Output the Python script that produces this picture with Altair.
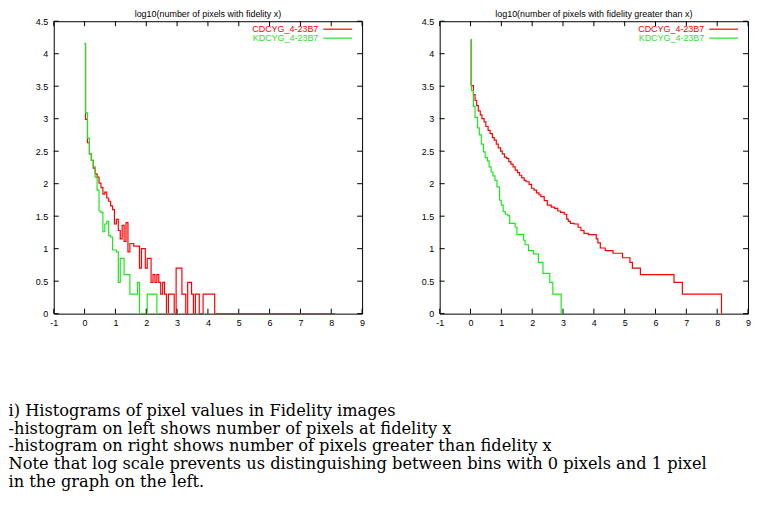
import altair as alt
import pandas as pd

# ---------------- data ----------------
series_names = ["CDCYG_4-23B7", "KDCYG_4-23B7"]
series_colors = ["#ff0000", "#1ee61e"]

bin_width = 0.0625  # histogram bin width (1/16)

# left panel: log10(number of pixels with fidelity x), one value per bin (bin centres k*bin_width)
left_red = [4.15, 2.99, 2.63, 2.46, 2.36, 2.24, 2.15, 2.10, 2.01, 1.94,
            1.84, 1.87, 1.78, 1.73, 1.66, 1.60, 1.38, 1.45, 1.28, 1.15,
            1.36, 1.11, 1.40, 0.95, 1.08, 1.08, 1.04, 1.04, 1.04, 0.70,
            1.00, 1.00, 0.70, 0.85, 0.85, 0.48, 0.60, 0.48, 0.60, 0.48,
            0.30, 0.48, 0.30, 0.00, 0.30, 0.30, 0.30, 0.00, 0.70, 0.70,
            0.70, 0.30, 0.30, 0.00, 0.48, 0.48, 0.30, 0.00, 0.30, 0.30,
            0.00, 0.00, 0.30, 0.30, 0.30, 0.30, 0.30, 0.30, 0.00, 0.00,
            0.00, 0.00, 0.00, 0.00, 0.00, 0.00, 0.00, 0.00, 0.00, 0.00,
            0.00, 0.00, 0.00, 0.00, 0.00, 0.00, 0.00, 0.00, 0.00, 0.00,
            0.00, 0.00, 0.00, 0.00, 0.00, 0.00, 0.00, 0.00, 0.00, 0.00,
            0.00, 0.00, 0.00, 0.00, 0.00, 0.00, 0.00, 0.00, 0.00, 0.00,
            0.00, 0.00, 0.00, 0.00, 0.00, 0.00, 0.00, 0.00, 0.00, 0.00,
            0.00, 0.00, 0.00, 0.00, 0.00, 0.00, 0.00, 0.00, 0.00, 0.00,
            0.00]
left_green = [4.16, 3.09, 2.70, 2.46, 2.36, 2.26, 2.10, 1.90, 1.58, 1.56,
              1.26, 1.38, 1.42, 1.20, 1.18, 0.98, 0.98, 0.95, 0.48, 0.85,
              0.85, 0.60, 0.60, 0.60, 0.30, 0.30, 0.30, 0.30, 0.48, 0.00,
              0.00, 0.00, 0.00, 0.30, 0.30, 0.30, 0.30, 0.30, 0.00, 0.00,
              0.00, 0.00, 0.00, 0.00, 0.00, 0.00, 0.00, 0.00]

# right panel: log10(number of pixels with fidelity greater than x), step points
right_red_x = [0, 0.02, 0.094, 0.147, 0.20, 0.253, 0.317, 0.37, 0.44, 0.497,
               0.57, 0.635, 0.71, 0.77, 0.836, 0.90, 0.975, 1.03, 1.10, 1.166,
               1.24, 1.31, 1.38, 1.45, 1.527, 1.59, 1.66, 1.74, 1.80, 1.90,
               1.98, 2.06, 2.14, 2.22, 2.28, 2.39, 2.49, 2.62, 2.73, 2.83,
               2.92, 3.04, 3.12, 3.17, 3.24, 3.36, 3.49, 3.58, 3.68, 3.82,
               4.08, 4.13, 4.21, 4.37, 4.62, 4.93, 5.17, 5.25, 5.51, 6.60,
               6.87, 8.14]
right_red_y = [4.20, 3.51, 3.37, 3.28, 3.20, 3.12, 3.06, 3.00, 2.95, 2.88,
               2.82, 2.77, 2.71, 2.67, 2.61, 2.55, 2.50, 2.46, 2.41, 2.39,
               2.34, 2.30, 2.26, 2.21, 2.17, 2.13, 2.09, 2.05, 2.03, 1.99,
               1.93, 1.90, 1.86, 1.83, 1.80, 1.74, 1.67, 1.64, 1.62, 1.58,
               1.56, 1.53, 1.455, 1.42, 1.39, 1.38, 1.33, 1.28, 1.235, 1.215,
               1.15, 1.09, 1.01, 0.97, 0.93, 0.86, 0.79, 0.70, 0.60, 0.48,
               0.30, 0.00]
right_green_x = [0, 0.03, 0.094, 0.147, 0.23, 0.285, 0.35, 0.42, 0.476, 0.55,
                 0.603, 0.667, 0.73, 0.794, 0.858, 0.943, 0.996, 1.06, 1.13, 1.21,
                 1.27, 1.45, 1.505, 1.72, 1.77, 1.88, 2.04, 2.20, 2.35, 2.57,
                 2.67, 2.94]
right_green_y = [4.22, 3.43, 3.19, 3.02, 2.86, 2.75, 2.61, 2.49, 2.40, 2.35,
                 2.26, 2.18, 2.12, 2.05, 1.95, 1.745, 1.67, 1.57, 1.53, 1.51,
                 1.39, 1.33, 1.22, 1.13, 1.06, 0.97, 0.92, 0.79, 0.62, 0.48,
                 0.30, 0.00]

x_ticks = [-1, 0, 1, 2, 3, 4, 5, 6, 7, 8, 9]
y_ticks = [0, 0.5, 1, 1.5, 2, 2.5, 3, 3.5, 4, 4.5]

titles = ["log10(number of pixels with fidelity x)",
          "log10(number of pixels with fidelity greater than x)"]

caption = ["i) Histograms of pixel values in Fidelity images",
           "-histogram on left shows number of pixels at fidelity x",
           "-histogram on right shows number of pixels greater than fidelity x",
           "Note that log scale prevents us distinguishing between bins with 0 pixels and 1 pixel",
           "in the graph on the left."]

# ---------------- chart ----------------
W, H = 310, 294
TICK = 5
FONT = "Liberation Sans"

xscale = alt.Scale(domain=[-1, 9], nice=False, zero=False)
yscale = alt.Scale(domain=[0, 4.5], nice=False, zero=False)
xaxis = alt.Axis(values=x_ticks, labelExpr="datum.value + ''", labelPadding=5,
                 labelOverlap=False, labelBound=False, labelFlush=False)
yaxis = alt.Axis(values=y_ticks, labelExpr="datum.value + ''", labelPadding=6,
                 minExtent=45, maxExtent=45, labelOverlap=False, labelBound=False,
                 labelFlush=False)


def xenc(field):
    return alt.X(field, type="quantitative", scale=xscale, title=None, axis=xaxis)


def yenc(field):
    return alt.Y(field, type="quantitative", scale=yscale, title=None, axis=yaxis)


def line_layer(xs, ys, color, interp):
    df = pd.DataFrame({"x": xs, "y": ys})
    return alt.Chart(df).mark_line(interpolate=interp, color=color,
                                   strokeWidth=1.2, clip=True).encode(x=xenc("x"), y=yenc("y"))


def tick_layers():
    ydf = pd.DataFrame({"t": y_ticks})
    xdf = pd.DataFrame({"t": x_ticks})
    return [
        alt.Chart(ydf).mark_rule(color="black").encode(y=yenc("t"), x=alt.value(0), x2=alt.value(TICK)),
        alt.Chart(ydf).mark_rule(color="black").encode(y=yenc("t"), x=alt.value(W - TICK), x2=alt.value(W)),
        alt.Chart(xdf).mark_rule(color="black").encode(x=xenc("t"), y=alt.value(H), y2=alt.value(H - TICK)),
        alt.Chart(xdf).mark_rule(color="black").encode(x=xenc("t"), y=alt.value(0), y2=alt.value(TICK)),
    ]


def legend_layers():
    out = []
    for i, (name, col) in enumerate(zip(series_names, series_colors)):
        ldf = pd.DataFrame({"label": [name]})
        yy = 8 + 9 * i
        out.append(alt.Chart(ldf).mark_text(align="right", baseline="middle", font=FONT,
                                            fontSize=9, color=col)
                   .encode(text="label:N", x=alt.value(W - 44), y=alt.value(yy)))
        out.append(alt.Chart(ldf).mark_rule(color=col, strokeWidth=1.2)
                   .encode(x=alt.value(W - 39), x2=alt.value(W - 10), y=alt.value(yy)))
    return out


def panel(title, red_xy, green_xy, interp):
    layers = [line_layer(red_xy[0], red_xy[1], series_colors[0], interp),
              line_layer(green_xy[0], green_xy[1], series_colors[1], interp)]
    layers += tick_layers() + legend_layers()
    return alt.layer(*layers).properties(
        width=W, height=H,
        title=alt.TitleParams(title, font=FONT, fontSize=9, fontWeight="normal",
                              offset=-2, anchor="middle", frame="group", color="black"))


left_x_red = [k * bin_width for k in range(len(left_red))]
left_x_green = [k * bin_width for k in range(len(left_green))]

left = panel(titles[0], (left_x_red, left_red), (left_x_green, left_green), "step")
right = panel(titles[1], (right_red_x, right_red_y), (right_green_x, right_green_y), "step-after")

chart = alt.hconcat(left, right, spacing=28).properties(
    padding={"left": 0, "top": 0, "right": 0, "bottom": 0},
    title=alt.TitleParams(caption, orient="bottom", anchor="start", font="DejaVu Serif",
                          fontSize=16.3, fontWeight="normal", lineHeight=18, offset=75,
                          color="black"),
).configure_view(stroke="black", strokeWidth=1).configure_axis(
    domain=False, ticks=False, grid=False, labelFont=FONT, labelFontSize=9,
    labelColor="black", labelOverlap=False)

chart.save("out.html", embed_options={"renderer": "svg", "actions": False})
